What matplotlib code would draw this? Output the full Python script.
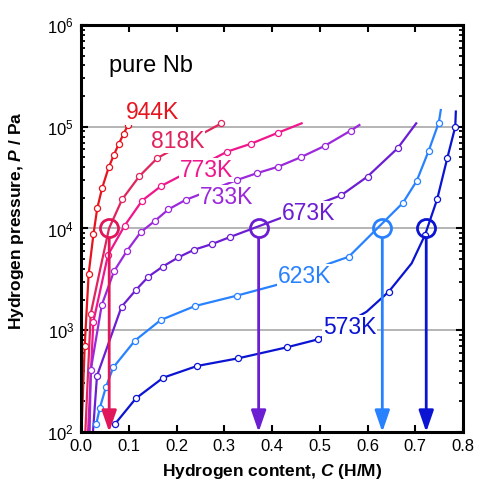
import matplotlib
matplotlib.use("Agg")
import matplotlib.pyplot as plt
from matplotlib.ticker import LogLocator, MultipleLocator, NullFormatter

plt.rcParams["font.family"] = ["Liberation Sans", "DejaVu Sans"]
plt.rcParams["mathtext.fontset"] = "custom"
plt.rcParams["mathtext.rm"] = "Liberation Sans"
plt.rcParams["mathtext.it"] = "Liberation Sans:italic"
plt.rcParams["mathtext.bf"] = "Liberation Sans:bold"
plt.rcParams["mathtext.bfit"] = "Liberation Sans:italic:bold"

# isotherms: hydrogen content C (H/M) vs pressure P (Pa)
# "bare" = points on the drawn curve without an open-circle marker
c_944 = [0.001, 0.0077, 0.016, 0.026, 0.034, 0.044, 0.058, 0.069, 0.079, 0.089, 0.098]
p_944 = [100, 700, 3600, 8770, 15800, 24800, 39900, 53100, 67600, 85000, 103000]
bare_944 = [0]

c_818 = [0.009, 0.0203, 0.039, 0.0586, 0.086, 0.122, 0.160, 0.294]
p_818 = [100, 1450, 3760, 10000, 19300, 32600, 49300, 108000]
bare_818 = [0, 2, 3]

c_773 = [0.0147, 0.0258, 0.0565, 0.0915, 0.128, 0.168, 0.306, 0.356, 0.413, 0.462]
p_773 = [100, 1210, 5500, 10700, 18800, 26200, 56900, 68100, 87500, 108000]
bare_773 = [0, 9]

c_733 = [0.018, 0.0204, 0.0434, 0.0691, 0.0963, 0.125, 0.154, 0.183, 0.219,
         0.327, 0.368, 0.413, 0.460, 0.510, 0.5645, 0.583]
p_733 = [100, 406, 1770, 3800, 6040, 9200, 11800, 15400, 19100,
         30000, 34900, 40500, 50100, 64700, 91400, 104000]
bare_733 = [0, 15]

c_673 = [0.025, 0.0335, 0.0848, 0.115, 0.141, 0.171, 0.204, 0.237, 0.275, 0.312,
         0.545, 0.600, 0.663, 0.702]
p_673 = [100, 357, 1700, 2490, 3360, 4220, 5210, 6190, 7050, 8240,
         21200, 32400, 61400, 108000]
bare_673 = [0, 13]

c_623 = [0.0318, 0.0392, 0.0524, 0.0675, 0.1131, 0.1669, 0.2387, 0.3267, 0.4098,
         0.5215, 0.5608, 0.6743, 0.703, 0.728, 0.7493, 0.7535]
p_623 = [119, 171, 279, 431, 793, 1260, 1730, 2190, 2790,
         4550, 5280, 17900, 29300, 57800, 110000, 146000]
bare_623 = [8, 9, 15]

c_573 = [0.0712, 0.1149, 0.1722, 0.2434, 0.3293, 0.4306, 0.4969, 0.598, 0.6444,
         0.6925, 0.7204, 0.7459, 0.767, 0.7838, 0.785]
p_573 = [120, 214, 342, 446, 530, 679, 815, 1520, 2390,
         4550, 8630, 19400, 49000, 100000, 141000]
bare_573 = [7, 9, 14]

# solubility read at 10^4 Pa
c_sol = [0.059, 0.372, 0.631, 0.723]
p_sol = 1e4
sol_colors = ["#e0185a", "#6c1ed2", "#2882ff", "#0a14d2"]

series = [
    ("944K", c_944, p_944, bare_944, "#e6141e", (0.0942, 1.19e5)),
    ("818K", c_818, p_818, bare_818, "#e0245e", (0.146, 6.25e4)),
    ("773K", c_773, p_773, bare_773, "#f0168c", (0.2073, 3.24e4)),
    ("733K", c_733, p_733, bare_733, "#9c28dc", (0.249, 1.74e4)),
    ("673K", c_673, p_673, bare_673, "#6c1ed2", (0.420, 1.21e4)),
    ("623K", c_623, p_623, bare_623, "#2882ff", (0.413, 2.89e3)),
    ("573K", c_573, p_573, bare_573, "#0a14d2", (0.506, 912)),
]

fig = plt.figure(figsize=(4.84, 4.94), dpi=100)
ax = fig.add_axes([0.1674, 0.1255, 0.7892, 0.8239])
ax.set_yscale("log")
ax.set_xlim(0, 0.8)
ax.set_ylim(1e2, 1e6)

for yv in [1e3, 1e4, 1e5]:
    ax.axhline(yv, color="#a0a0a0", lw=1.1, zorder=0.5)

for name, c, p, bare, col, (tx, ty) in series:
    marks = [i for i in range(len(c)) if i not in bare]
    ax.plot(c, p, color=col, lw=1.6, zorder=2, marker="o", markevery=marks,
            ms=4.4, mfc="white", mec=col, mew=0.9)
    ax.text(tx, ty, name, color=col, fontsize=16.5, ha="left", va="baseline",
            zorder=3, bbox=dict(fc="white", ec="none", pad=0.6))

for c, col in zip(c_sol, sol_colors):
    ax.plot([c], [p_sol], marker="o", ms=13, mfc="none", mec=col, mew=2.0, zorder=5)
    ax.annotate("", xy=(c, 1e2), xytext=(c, p_sol * 0.8),
                arrowprops=dict(arrowstyle="-|>,head_length=1.3,head_width=0.45",
                                color=col, lw=2.0, mutation_scale=10,
                                shrinkA=0, shrinkB=0), zorder=4)

ax.text(0.0586, 10 ** 5.541, "pure Nb", fontsize=17, ha="left", va="baseline")

ax.xaxis.set_major_locator(MultipleLocator(0.1))
ax.xaxis.set_major_formatter(plt.FuncFormatter(lambda v, pos: f"{v:.1f}"))
ax.yaxis.set_major_locator(LogLocator(base=10, numticks=10))
ax.yaxis.set_minor_locator(LogLocator(base=10, subs=range(2, 10), numticks=10))
ax.yaxis.set_minor_formatter(NullFormatter())
ax.tick_params(which="major", direction="in", top=True, right=True,
               length=5, width=1.5, labelsize=12, pad=5)
ax.tick_params(which="minor", direction="in", top=True, right=True,
               length=3.2, width=1.3)
for s in ax.spines.values():
    s.set_linewidth(2.2)

ax.set_xlabel(r"Hydrogen content, $\mathbfit{C}$ (H/M)", fontsize=12.5,
              fontweight="bold", labelpad=6)
ax.set_ylabel(r"Hydrogen pressure, $\mathbfit{P}$ / Pa", fontsize=12.5,
              fontweight="bold")
ax.yaxis.set_label_coords(-0.145, 0.52)

fig.savefig("out.png", dpi=100)
